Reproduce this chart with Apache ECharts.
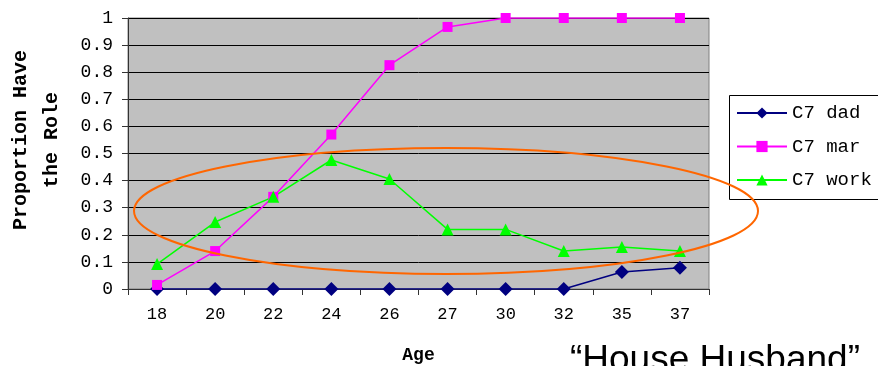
<!DOCTYPE html>
<html>
<head>
<meta charset="utf-8">
<script src="https://cdn.jsdelivr.net/npm/echarts@6/dist/echarts.min.js"></script>
<style>
  html, body { margin: 0; padding: 0; background: #fff; }
  #chart { width: 878px; height: 366px; }
</style>
</head>
<body>
<div id="chart"></div>
<script>
// ages on the x axis
const ages = ['18', '20', '22', '24', '26', '27', '30', '32', '35', '37'];
// proportion having each role
const dad = [0, 0, 0, 0, 0, 0, 0, 0, 0.063, 0.078];
const mar = [0.015, 0.14, 0.34, 0.57, 0.826, 0.967, 1, 1, 1, 1];
const work = [0.092, 0.247, 0.34, 0.476, 0.406, 0.22, 0.22, 0.14, 0.155, 0.14];
const seriesNames = ['C7 dad', 'C7 mar', 'C7 work'];

const mono = '"Liberation Mono", "DejaVu Sans Mono", monospace';
const chart = echarts.init(document.getElementById('chart'));

function lineSeries(name, data, color, symbol, size) {
  return {
    name, type: 'line', data,
    symbol, symbolSize: size,
    lineStyle: { color, width: 1.5 },
    itemStyle: { color },
    animation: false,
  };
}

chart.setOption({
  backgroundColor: '#fff',
  grid: {
    left: 128, right: 169, top: 18, bottom: 77,
    outerBoundsMode: 'none', containLabel: false,
    show: true, backgroundColor: '#c0c0c0', borderColor: '#808080', borderWidth: 1,
  },
  legend: {
    left: 729, top: 95,
    orient: 'vertical',
    data: seriesNames,
    itemWidth: 50, itemHeight: 14, itemGap: 13.5,
    padding: [8, 10, 9, 7],
    textStyle: { fontFamily: mono, fontSize: 19, color: '#000', lineHeight: 20 },
  },
  xAxis: {
    type: 'category', data: ages, boundaryGap: true,
    name: 'Age', nameLocation: 'middle', nameGap: 57,
    nameTextStyle: { fontFamily: mono, fontSize: 18, fontWeight: 'bold', color: '#000' },
    axisLine: { lineStyle: { color: '#333', width: 1 } },
    axisTick: { show: true, length: 6, lineStyle: { color: '#333' } },
    axisLabel: { fontFamily: mono, fontSize: 17, color: '#000', margin: 17 },
    splitLine: { show: false },
  },
  yAxis: {
    type: 'value', min: 0, max: 1, interval: 0.1,
    axisLine: { show: true, lineStyle: { color: '#333', width: 1 } },
    axisTick: { show: true, length: 6, lineStyle: { color: '#333' } },
    axisLabel: {
      fontFamily: mono, fontSize: 18, color: '#000', margin: 15,
      formatter: v => (Math.round(v * 10) / 10).toString(),
    },
    splitLine: { show: true, lineStyle: { color: '#000', width: 1 } },
  },
  graphic: [
    // legend frame runs off the right edge like the original
    {
      type: 'rect', shape: { x: 729.5, y: 95.5, width: 200, height: 104 },
      style: { fill: 'none', stroke: '#000', lineWidth: 1 },
    },
    {
      type: 'text', x: 36, y: 140, rotation: Math.PI / 2,
      style: {
        text: 'Proportion Have\nthe Role', fontFamily: mono, fontSize: 20,
        fontWeight: 'bold', fill: '#000', align: 'center', verticalAlign: 'middle',
        lineHeight: 31,
      },
    },
    {
      type: 'ellipse', shape: { cx: 446, cy: 211, rx: 312, ry: 63 },
      style: { fill: 'none', stroke: '#ff6600', lineWidth: 2 }, z: 100,
    },
    {
      type: 'text', x: 570, y: 361,
      style: {
        text: '\u201cHouse Husband\u201d', fontFamily: '"Liberation Sans", Arial, sans-serif',
        fontSize: 37, fill: '#000', align: 'left', verticalAlign: 'middle',
      },
    },
  ],
  series: [
    lineSeries(seriesNames[0], dad, '#000080', 'diamond', 14),
    lineSeries(seriesNames[1], mar, '#ff00ff', 'rect', 10),
    lineSeries(seriesNames[2], work, '#00ff00', 'triangle', 12),
  ],
});
</script>
</body>
</html>
